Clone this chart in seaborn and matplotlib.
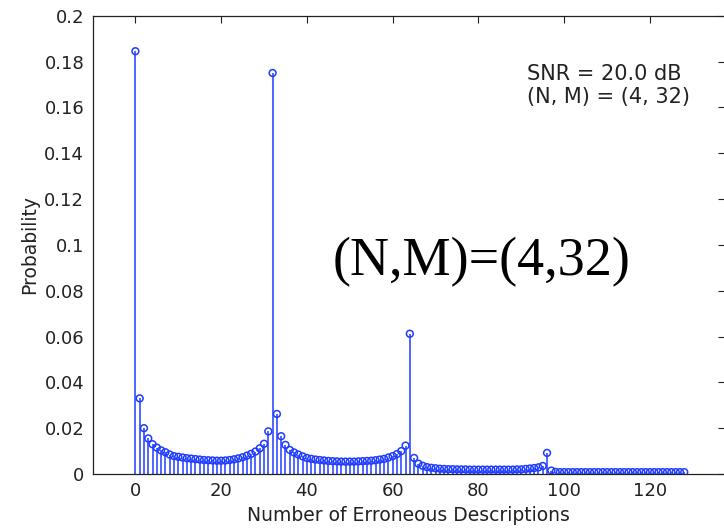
import numpy as np
import pandas as pd
import matplotlib
matplotlib.use("Agg")
import matplotlib.pyplot as plt
import seaborn as sns

# ---- data -------------------------------------------------------------
errors = list(range(0, 129))
prob_0_31 = [0.1845, 0.0330, 0.0200, 0.0155, 0.0130, 0.0115, 0.0103, 0.0095,
             0.0085, 0.0078, 0.0075, 0.0072, 0.0069, 0.0067, 0.0065, 0.0063,
             0.0061, 0.0060, 0.0059, 0.0058, 0.0058, 0.0059, 0.0061, 0.0064,
             0.0068, 0.0073, 0.0080, 0.0088, 0.0098, 0.0112, 0.0132, 0.0186]
prob_32_63 = [0.1750, 0.0262, 0.0165, 0.0127, 0.0105, 0.0094, 0.0085, 0.0077,
              0.0070, 0.0066, 0.0063, 0.0061, 0.0059, 0.0057, 0.0056, 0.0055,
              0.0054, 0.0054, 0.0054, 0.0054, 0.0055, 0.0056, 0.0057, 0.0058,
              0.0060, 0.0063, 0.0066, 0.0072, 0.0078, 0.0087, 0.0100, 0.0124]
prob_64_95 = [0.0612, 0.0070, 0.0045, 0.0036, 0.0030, 0.0027, 0.0025, 0.0023,
              0.0022, 0.0021, 0.0021, 0.0020, 0.0020, 0.0020, 0.0019, 0.0019,
              0.0019, 0.0019, 0.0019, 0.0019, 0.0019, 0.0019, 0.0019, 0.0019,
              0.0019, 0.0020, 0.0020, 0.0022, 0.0024, 0.0026, 0.0029, 0.0035]
prob_96_128 = [0.0092, 0.0015, 0.0009, 0.0008, 0.0008, 0.0008, 0.0008, 0.0008,
               0.0008, 0.0008, 0.0008, 0.0008, 0.0008, 0.0008, 0.0008, 0.0008,
               0.0008, 0.0008, 0.0008, 0.0008, 0.0008, 0.0008, 0.0008, 0.0008,
               0.0008, 0.0008, 0.0008, 0.0008, 0.0008, 0.0008, 0.0008, 0.0008,
               0.0008]
probability = prob_0_31 + prob_32_63 + prob_64_95 + prob_96_128

x_ticks = [0, 20, 40, 60, 80, 100, 120]
y_ticks = [0, 0.02, 0.04, 0.06, 0.08, 0.1, 0.12, 0.14, 0.16, 0.18, 0.2]
y_tick_labels = ["0", "0.02", "0.04", "0.06", "0.08", "0.1", "0.12", "0.14",
                 "0.16", "0.18", "0.2"]
info_text = "SNR = 20.0 dB\n(N, M) = (4, 32)"
big_text = "(N,M)=(4,32)"

df = pd.DataFrame({"errors": errors, "probability": probability})

# ---- style ------------------------------------------------------------
sns.set_style("white")
plt.rcParams["font.family"] = ["DejaVu Sans"]

blue = "#1f3cff"

fig = plt.figure(figsize=(7.24, 5.28), dpi=100)
ax = fig.add_axes([92.5 / 724, 54 / 528, (725 - 92.5) / 724, (474 - 15.7) / 528])

ax.vlines(df["errors"], 0, df["probability"], color=blue, linewidth=1.1, zorder=2)
sns.scatterplot(data=df, x="errors", y="probability", ax=ax, marker="o",
                s=24, facecolors="none", edgecolor=blue, linewidth=1.1,
                zorder=3, legend=False)

ax.set_xlim(-10, 137.5)
ax.set_ylim(0, 0.2)
ax.set_xticks(x_ticks)
ax.set_xticklabels([str(t) for t in x_ticks])
ax.set_yticks(y_ticks)
ax.set_yticklabels(y_tick_labels)

ax.tick_params(direction="in", length=5, width=0.8, top=True, right=True,
               labelsize=13, colors="#222222", pad=6)
for sp in ax.spines.values():
    sp.set_color("#222222")
    sp.set_linewidth(0.9)

ax.set_xlabel("Number of Erroneous Descriptions", fontsize=13.5, color="#222222",
              labelpad=4)
ax.set_ylabel("Probability", fontsize=13.5, color="#222222", labelpad=4)

ax.text(91.3, 0.1695, info_text, fontsize=15, color="#222222",
        ha="left", va="center", linespacing=1.2)
ax.text(46.1, 0.0924, big_text, fontsize=39, color="black",
        family=["Liberation Serif"], ha="left", va="center")

fig.savefig("out.png", dpi=100)
